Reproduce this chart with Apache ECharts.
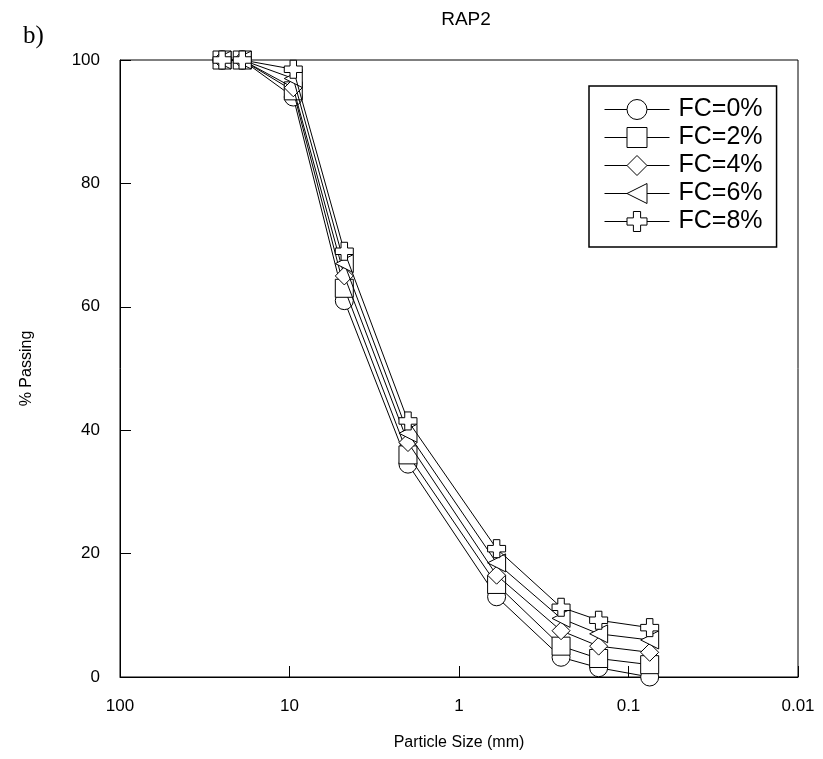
<!DOCTYPE html>
<html>
<head>
<meta charset="utf-8">
<script src="https://cdn.jsdelivr.net/npm/echarts@6/dist/echarts.min.js"></script>
<style>
html,body{margin:0;padding:0;background:#fff;}
#c{width:823px;height:759px;}
</style>
</head>
<body>
<div id="c"></div>
<script>
const particleSize = [25, 19, 9.5, 4.75, 2.0, 0.6, 0.25, 0.15, 0.075];
const fc0 = [100, 100, 94, 61, 34.5, 13, 3.2, 1.5, 0];
const fc2 = [100, 100, 95, 63, 36, 15, 5, 3, 2];
const fc4 = [100, 100, 95.5, 65, 38, 16.5, 7.5, 5, 4];
const fc6 = [100, 100, 97, 67, 39.5, 18.5, 9.5, 7, 6];
const fc8 = [100, 100, 98.5, 69, 41.5, 20.8, 11.3, 9.2, 8];
const seriesNames = ['FC=0%', 'FC=2%', 'FC=4%', 'FC=6%', 'FC=8%'];
const xTicks = [100, 10, 1, 0.1, 0.01];
const yTicks = [0, 20, 40, 60, 80, 100];

const symbols = [
  'circle',
  'rect',
  'diamond',
  'path://M0,5 L10,0 L10,10 Z',
  'path://M3.2,0 H6.8 V3.2 H10 V6.8 H6.8 V10 H3.2 V6.8 H0 V3.2 H3.2 Z'
];
const allData = [fc0, fc2, fc4, fc6, fc8];

const chart = echarts.init(document.getElementById('c'), null, {renderer: 'canvas'});
const font = 'Liberation Sans, Arial, sans-serif';

chart.setOption({
  animation: false,
  backgroundColor: '#fff',
  title: [
    {text: 'RAP2', left: 461, top: 5, textAlign: 'center',
     textStyle: {fontFamily: font, fontWeight: 'normal', fontSize: 19, color: '#000'}},
    {text: 'b)', left: 18, top: 19,
     textStyle: {fontFamily: 'Liberation Serif, Times New Roman, serif', fontWeight: 'normal', fontSize: 25, color: '#000'}}
  ],
  grid: {left: 120, right: 25, top: 60, bottom: 82, show: true, borderColor: '#000', borderWidth: 1, backgroundColor: 'transparent'},
  legend: {
    left: 589, top: 86, orient: 'vertical',
    data: seriesNames,
    itemWidth: 65, itemHeight: 25, itemGap: 3,
    backgroundColor: '#fff', borderColor: '#000', borderWidth: 1.5,
    padding: [11, 14, 13, 15],
    textStyle: {fontFamily: font, fontSize: 25, color: '#000', lineHeight: 25, padding: [0, 0, 0, 4]},
    itemStyle: {color: '#fff', borderColor: '#000', borderWidth: 1},
    lineStyle: {color: '#000', width: 1}
  },
  xAxis: {
    type: 'log', logBase: 10, min: 0.01, max: 100, inverse: true,
    name: 'Particle Size (mm)', nameLocation: 'middle', nameGap: 58,
    nameTextStyle: {fontFamily: font, fontSize: 16, color: '#000'},
    axisLine: {lineStyle: {color: '#000', width: 1}},
    axisTick: {inside: true, length: 11, lineStyle: {color: '#000'}},
    minorTick: {show: false},
    splitLine: {show: false},
    axisLabel: {fontFamily: font, fontSize: 17, color: '#000', margin: 21,
      formatter: function (v) { return xTicks.some(t => Math.abs(t - v) / t < 1e-6) ? String(+v.toPrecision(6)) : ''; }}
  },
  yAxis: {
    type: 'value', min: 0, max: 100, interval: 20,
    name: '% Passing', nameLocation: 'middle', nameGap: 85, nameRotate: 90,
    nameTextStyle: {fontFamily: font, fontSize: 16, color: '#000'},
    axisLine: {show: true, lineStyle: {color: '#000', width: 1}},
    axisTick: {show: true, inside: true, length: 11, lineStyle: {color: '#000'}},
    splitLine: {show: false},
    axisLabel: {fontFamily: font, fontSize: 17, color: '#000', margin: 20,
      formatter: function (v) { return yTicks.includes(v) ? String(v) : ''; }}
  },
  series: allData.map((d, i) => ({
    name: seriesNames[i],
    type: 'line',
    data: particleSize.map((x, j) => [x, d[j]]),
    symbol: symbols[i],
    symbolSize: 18,
    showAllSymbol: true,
    lineStyle: {color: '#000', width: 1},
    itemStyle: {color: '#fff', borderColor: '#000', borderWidth: 1},
    z: 2 + i
  }))
});
</script>
</body>
</html>
